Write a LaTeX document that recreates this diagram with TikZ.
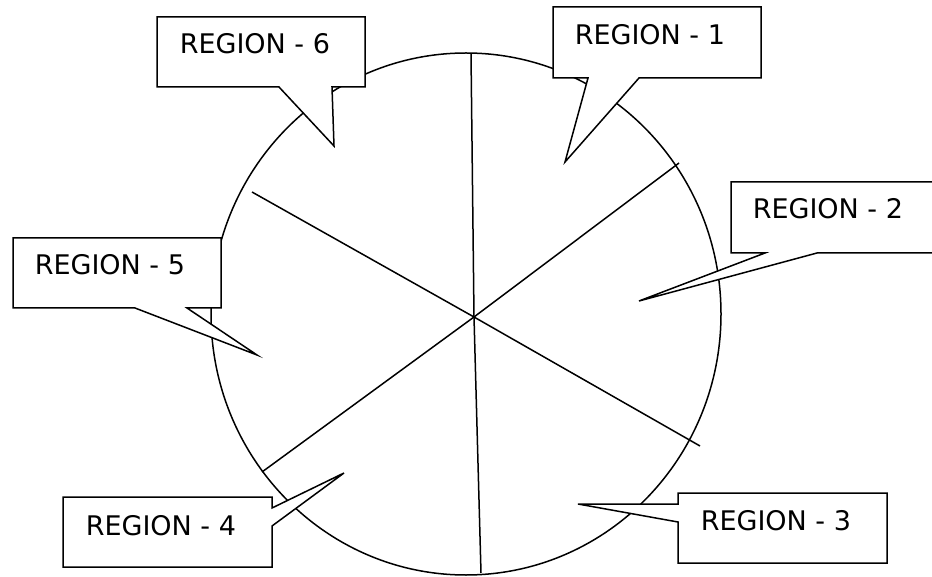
\documentclass[tikz,border=0pt]{standalone}
\usepackage{fontspec}
\newfontfamily\regionfont{DejaVu Sans}
\tikzset{
    callout/.style={draw, fill=white, line join=miter},
    regionlabel/.style={font=\regionfont\fontsize{27}{32}\selectfont, anchor=base west, inner sep=0pt},
}
\begin{document}
\begin{tikzpicture}[x=1pt,y=-1pt,line width=1.5pt]
                \useasboundingbox (0,0) rectangle (932,577);
                \draw (466,314) ellipse [x radius=255, y radius=261];

                \coordinate (O) at (474,317);
                \foreach \S/\x/\y in{T/471/54,B/481/573,UR/679/163,LL/262/472,UL/252/192,LR/700/446}
                {
                    \coordinate (\S) at (\x,\y);
                    \draw (O) -- (\S);
                }

                \foreach \S/\x/\y in{tip1/565/162,tip2/639/301,tip3/578/504,tip4/344/473,tip5/257/355,tip6/334/146}
                {
                    \coordinate (\S) at (\x,\y);
                }

                \draw[callout] (157,17) -- (365,17) -- (365,87) -- (332,87) -- (tip6) -- (279,87) -- (157,87) -- cycle;
                \draw[callout] (553,7) -- (761,7) -- (761,78) -- (639,78) -- (tip1) -- (588,78) -- (553,78) -- cycle;
                \draw[callout] (731,182) -- (940,182) -- (940,253) -- (817,253) -- (tip2) -- (765,253) -- (731,253) -- cycle;
                \draw[callout] (13,238) -- (221,238) -- (221,308) -- (187,308) -- (tip5) -- (135,308) -- (13,308) -- cycle;
                \draw[callout] (63,497) -- (272,497) -- (272,508) -- (tip4) -- (272,526) -- (272,567) -- (63,567) -- cycle;
                \draw[callout] (678,493) -- (887,493) -- (887,563) -- (678,563) -- (678,522) -- (tip3) -- (678,504) -- cycle;

                \node[regionlabel] (r1) at (574,45) {REGION - 1};
                \node[regionlabel] (r2) at (752,219) {REGION - 2};
                \node[regionlabel] (r3) at (700,530) {REGION - 3};
                \node[regionlabel] (r4) at (85,535) {REGION - 4};
                \node[regionlabel] (r5) at (34,275) {REGION - 5};
                \node[regionlabel] (r6) at (179,54) {REGION - 6};
            \end{tikzpicture}
\end{document}
